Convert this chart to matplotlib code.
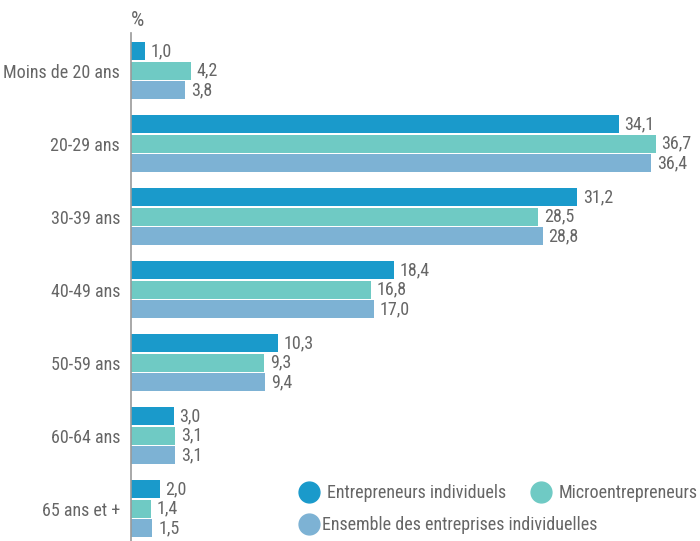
import matplotlib
matplotlib.use("Agg")
import matplotlib.pyplot as plt
from matplotlib.lines import Line2D
import numpy as np

categories = ["Moins de 20 ans", "20-29 ans", "30-39 ans", "40-49 ans",
              "50-59 ans", "60-64 ans", "65 ans et +"]
series_names = ["Entrepreneurs individuels", "Microentrepreneurs",
                "Ensemble des entreprises individuelles"]
entrepreneurs = [1.0, 34.1, 31.2, 18.4, 10.3, 3.0, 2.0]
micro = [4.2, 36.7, 28.5, 16.8, 9.3, 3.1, 1.4]
ensemble = [3.8, 36.4, 28.8, 17.0, 9.4, 3.1, 1.5]
colors = ["#1a9acb", "#6fcac4", "#7db2d4"]

plt.rcParams["font.family"] = ["Roboto Condensed", "Barlow Semi Condensed",
                               "Abel", "DejaVu Sans"]
TXT = "#666666"
FS = 13

fig = plt.figure(figsize=(7.0, 5.41), dpi=100)
ax = fig.add_axes([131 / 700, 0.0, 1 - 131 / 700, 1 - 33 / 541])

y = np.arange(len(categories))
offset = 0.267
height = 0.247
for k, (vals, col) in enumerate(zip([entrepreneurs, micro, ensemble], colors)):
    pos = y + (k - 1) * offset
    ax.barh(pos, vals, height=height, color=col, zorder=2)
    for p, v in zip(pos, vals):
        ax.text(v + 0.4, p, f"{v:.1f}".replace(".", ","), va="center",
                ha="left", fontsize=FS, color=TXT)

ax.set_xlim(0, 39.8)
ax.set_ylim(6.445, -0.514)
ax.set_yticks(y)
ax.set_yticklabels(categories, fontsize=FS, color=TXT)
ax.tick_params(axis="y", length=0, pad=8)
ax.set_xticks([])
for s in ["top", "right", "bottom"]:
    ax.spines[s].set_visible(False)
ax.spines["left"].set_color("#999999")
ax.spines["left"].set_linewidth(1.2)

fig.text(131 / 700, 1 - 21 / 541, "%", fontsize=15, color=TXT,
         ha="left", va="center")

handles = [Line2D([0], [0], marker="o", linestyle="none", markersize=15,
                  markerfacecolor=c, markeredgecolor=c) for c in colors]
fig.legend(handles[:2], series_names[:2], ncol=2, frameon=False,
           loc="center left", bbox_to_anchor=(282 / 700, 1 - 493 / 541),
           labelcolor=TXT, handletextpad=0.4, columnspacing=1.3,
           handlelength=1.2, prop={"size": FS})
fig.legend(handles[2:], series_names[2:], frameon=False,
           loc="center left", bbox_to_anchor=(282 / 700, 1 - 525 / 541),
           labelcolor=TXT, handletextpad=0.1, handlelength=1.2,
           prop={"size": FS})

fig.savefig("out.png", dpi=100)
